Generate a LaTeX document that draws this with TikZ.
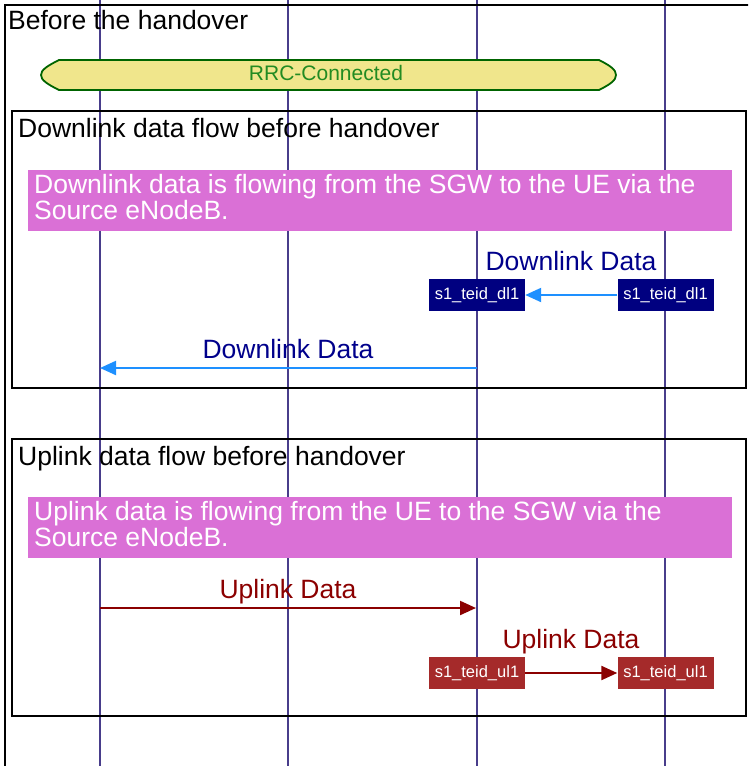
\documentclass[tikz,border=0pt]{standalone}
\usepackage{fontspec}
\setmainfont{Liberation Sans}
\definecolor{lifeblue}{RGB}{72,61,139}
\definecolor{rrcfill}{RGB}{240,230,140}
\definecolor{rrcedge}{RGB}{0,100,0}
\definecolor{rrctext}{RGB}{34,139,34}
\definecolor{notefill}{RGB}{218,112,214}
\definecolor{dlnavy}{RGB}{0,0,128}
\definecolor{dllabel}{RGB}{0,0,139}
\definecolor{dlarrow}{RGB}{30,144,255}
\definecolor{ullabel}{RGB}{139,0,0}
\definecolor{ulbox}{RGB}{165,42,42}
\usetikzlibrary{arrows.meta}
\newcommand{\bigtxt}{\fontsize{26.5pt}{26.5pt}\selectfont}

\begin{document}
\begin{tikzpicture}[x=1pt,y=-1pt,
  frame/.style={line width=2pt},
  title/.style={anchor=base west,inner sep=0pt,font=\bigtxt},
  notetext/.style={anchor=north west,inner sep=0pt,align=left,text=white,font=\fontsize{26.5pt}{26.5pt}\selectfont},
  msglabel/.style={anchor=base,inner sep=0pt,font=\bigtxt},
  teid/.style={minimum width=96pt,minimum height=32pt,inner sep=0pt,text=white,font=\fontsize{16.5pt}{16.5pt}\selectfont},
  flow/.style={line width=2.2pt,-{Triangle[length=16pt,width=14pt]}}]
\useasboundingbox (0,0) rectangle (748,766);
\clip (0,0) rectangle (748,766);
\foreach \x in {100,288,477,665} {
  \draw[lifeblue,line width=1.4pt] (\x,0) -- (\x,766);
}
\draw[frame] (5,780) -- (5,5) -- (760,5);
\node[title] (before) at (8,29) {Before the handover};
\draw[rrcedge,fill=rrcfill,line width=1.8pt] (59,60) -- (599,60) .. controls (611,66) and (616,70) .. (616,75)
  .. controls (616,80) and (611,84) .. (599,90) -- (59,90) .. controls (47,84) and (41,80) .. (41,75)
  .. controls (41,70) and (47,66) .. (59,60) -- cycle;
\node[anchor=base,inner sep=0pt,text=rrctext,font=\fontsize{21pt}{21pt}\selectfont] (rrc) at (326,80) {RRC-Connected};
\draw[frame] (12,111) rectangle (746,388);
\node[title] (dltitle) at (18,137) {Downlink data flow before handover};
\fill[notefill] (28,170) rectangle (732,231);
\node[notetext] (dlnote) at (34,174) {Downlink data is flowing from the SGW to the UE via the\\Source eNodeB.};
\node[msglabel,text=dllabel] (dlabelA) at (571,270) {Downlink Data};
\node[teid,fill=dlnavy] (dlsrc) at (477,295) {s1\_teid\_dl1};
\node[teid,fill=dlnavy] (dlsgw) at (665.5,295) {s1\_teid\_dl1};
\draw[flow,dlarrow] (dlsgw) -- (dlsrc);
\node[msglabel,text=dllabel] (dlabelB) at (288,358) {Downlink Data};
\coordinate (dlfrom) at (477,368);
\coordinate (dlto) at (100,368);
\draw[flow,dlarrow] (dlfrom) -- (dlto);
\draw[frame] (12,439) rectangle (746,716);
\node[title] (ultitle) at (18,465) {Uplink data flow before handover};
\fill[notefill] (28,497) rectangle (732,558);
\node[notetext] (ulnote) at (34,501) {Uplink data is flowing from the UE to the SGW via the\\Source eNodeB.};
\node[msglabel,text=ullabel] (ulabelA) at (288,598) {Uplink Data};
\coordinate (ulfrom) at (100,608);
\coordinate (ulto) at (476,608);
\draw[flow,ullabel] (ulfrom) -- (ulto);
\node[msglabel,text=ullabel] (ulabelB) at (571,648) {Uplink Data};
\node[teid,fill=ulbox] (ulsrc) at (477,673) {s1\_teid\_ul1};
\node[teid,fill=ulbox] (ulsgw) at (665.5,673) {s1\_teid\_ul1};
\draw[flow,ullabel] (ulsrc) -- (ulsgw);
\end{tikzpicture}
\end{document}
